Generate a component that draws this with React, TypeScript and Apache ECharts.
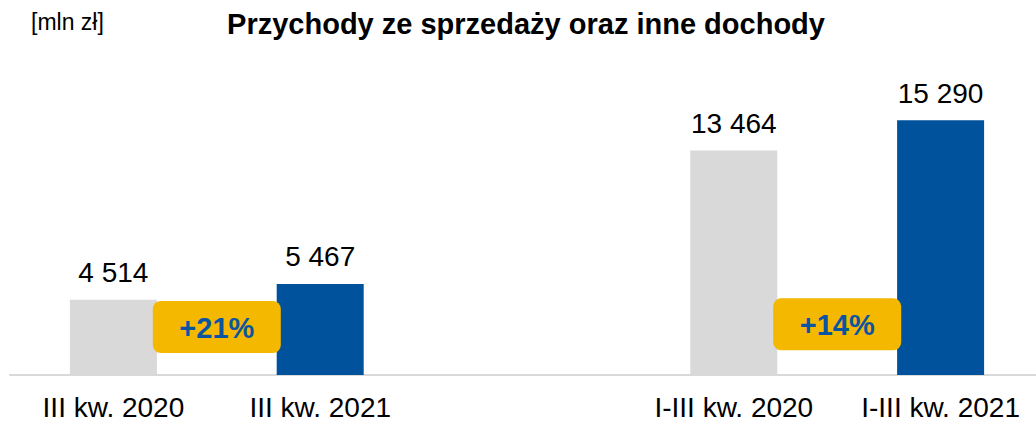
import React, { useEffect, useRef } from "react";
import * as echarts from "echarts";

const categories = ["III kw. 2020", "III kw. 2021", "", "I-III kw. 2020", "I-III kw. 2021"];
const revenue: (number | null)[] = [4514, 5467, null, 13464, 15290];
const barColors = ["#d9d9d9", "#00529c", "#ffffff", "#d9d9d9", "#00529c"];
const badgeLabels = ["+21%", "+14%"];
const badgePairs = [[0, 1], [3, 4]];
const badgeLevels = [2880, 3040];

const FONT = "Arial, 'Liberation Sans', sans-serif";

const fmt = (v: number) => String(v).replace(/\B(?=(\d{3})+(?!\d))/g, " ");

export default function App() {
  const ref = useRef<HTMLDivElement>(null);
  useEffect(() => {
    if (!ref.current) return;
    const chart = echarts.init(ref.current, null, { renderer: "svg" });
    chart.setOption({
      animation: false,
      grid: { left: 10, right: 0, top: 75, bottom: 47, containLabel: false },
      xAxis: {
        type: "category",
        data: categories,
        axisLine: { show: true, lineStyle: { color: "#d9d9d9", width: 2 } },
        axisTick: { show: false },
        axisLabel: { color: "#000", fontSize: 28, fontFamily: FONT, margin: 18, interval: 0 },
      },
      yAxis: {
        type: "value",
        min: 0,
        max: 18000,
        show: false,
        splitLine: { show: false },
      },
      series: [
        {
          type: "bar",
          barWidth: 87,
          data: revenue.map((v, i) => ({
            value: v === null ? "-" : v,
            itemStyle: { color: barColors[i] },
          })),
          label: {
            show: true,
            position: "top",
            distance: 13,
            color: "#000",
            fontSize: 28,
            fontFamily: FONT,
            formatter: (p: any) => fmt(p.value),
          },
        },
      ],
    });

    const badges: any[] = badgePairs.map((pair, k) => {
      const x1 = chart.convertToPixel({ xAxisIndex: 0 }, categories[pair[0]]) as number;
      const x2 = chart.convertToPixel({ xAxisIndex: 0 }, categories[pair[1]]) as number;
      const cy = chart.convertToPixel({ yAxisIndex: 0 }, badgeLevels[k]) as number;
      const cx = (x1 + x2) / 2;
      return {
        type: "group",
        x: cx,
        y: cy,
        children: [
          {
            type: "rect",
            z: 100,
            shape: { x: -64, y: -26, width: 128, height: 52, r: 8 },
            style: { fill: "#f5b800" },
          },
          {
            type: "text",
            z: 101,
            x: 0,
            y: 1,
            style: {
              text: badgeLabels[k],
              fill: "#0b55a0",
              font: `bold 29px ${FONT}`,
              textAlign: "center",
              textVerticalAlign: "middle",
            },
          },
        ],
      };
    });

    chart.setOption({
      graphic: [
        {
          type: "text",
          x: 526,
          y: 24,
          style: {
            text: "Przychody ze sprzedaży oraz inne dochody",
            fill: "#000",
            font: `bold 29px ${FONT}`,
            textAlign: "center",
            textVerticalAlign: "middle",
          },
        },
        {
          type: "text",
          x: 31,
          y: 22,
          style: {
            text: "[mln zł]",
            fill: "#000",
            font: `23px ${FONT}`,
            textAlign: "left",
            textVerticalAlign: "middle",
          },
        },
        ...badges,
      ],
    });

    return () => chart.dispose();
  }, []);
  return (
    <div style={{ position: "absolute", left: 0, top: 0, width: 1036, height: 422, overflow: "hidden" }}>
      <div ref={ref} style={{ width: 1044, height: 422 }} />
    </div>
  );
}
